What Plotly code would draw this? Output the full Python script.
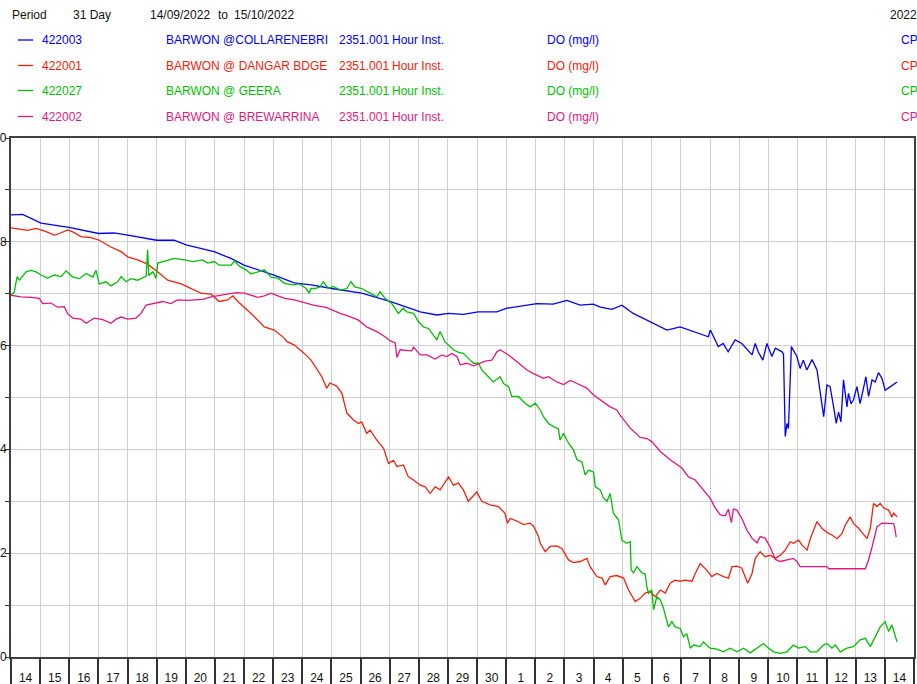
import pandas as pd
import plotly.graph_objects as go

START = pd.Timestamp("2022-09-14")
END = pd.Timestamp("2022-10-15")

# ---- series data: time offsets in days from 14/09/2022 00:00, DO in mg/l ----
blue_days = [0, 0.40, 1.03, 1.99, 3.01, 3.54, 4.01, 5.00, 5.60, 6.01, 6.97, 7.55, 8.00, 9.03, 9.72,
             10.30, 11.01, 12.04, 13.01, 14.05, 14.62, 15.01, 15.52, 16.04, 16.68, 17.02, 18.05, 18.61, 19.08, 19.54,
             19.99, 20.23, 20.63, 20.97, 21.36, 21.94, 22.05, 22.52, 22.97, 23.42, 23.94, 24.01, 24.28, 24.45, 24.62,
             24.86, 25.09, 25.44, 25.55, 25.65, 25.81, 25.95, 26.12, 26.24, 26.47, 26.52, 26.58, 26.64, 26.69, 26.79,
             26.98, 27.09, 27.20, 27.32, 27.50, 27.67, 27.78, 27.90, 28.01, 28.12, 28.24, 28.33, 28.41, 28.49, 28.58,
             28.70, 28.75, 28.84, 28.92, 29.04, 29.15, 29.35, 29.44, 29.56, 29.67, 29.78, 29.90, 30.01, 30.19, 30.36,
             30.42]
blue_do = [8.52, 8.53, 8.36, 8.28, 8.16, 8.17, 8.13, 8.03, 8.03, 7.94, 7.81, 7.68, 7.55, 7.36, 7.21,
           7.17, 7.10, 7.01, 6.85, 6.65, 6.59, 6.62, 6.60, 6.65, 6.65, 6.72, 6.81, 6.80, 6.87, 6.78,
           6.80, 6.74, 6.70, 6.78, 6.62, 6.46, 6.43, 6.30, 6.36, 6.27, 6.17, 6.30, 5.98, 6.04, 5.88,
           6.11, 6.04, 5.82, 6.04, 5.88, 5.72, 6.04, 5.79, 5.95, 5.88, 5.84, 4.25, 4.50, 4.40, 5.98,
           5.79, 5.56, 5.72, 5.53, 5.73, 5.53, 5.08, 4.63, 5.24, 5.21, 4.82, 4.50, 4.72, 4.53, 5.34,
           4.82, 5.08, 4.88, 4.95, 5.21, 4.88, 5.40, 5.02, 5.34, 5.30, 5.48, 5.37, 5.14, 5.21, 5.27,
           5.30]

red_days = [0, 0.40, 0.57, 0.86, 1.14, 1.49, 1.66, 1.95, 2.12, 2.40, 2.75, 3.03, 3.43, 3.78, 4.01,
            4.35, 4.69, 5.04, 5.38, 5.84, 6.24, 6.52, 6.87, 7.15, 7.44, 7.61, 7.79, 8.24, 8.70, 9.04,
            9.39, 9.47, 9.73, 10.07, 10.30, 10.67, 10.84, 10.95, 11.18, 11.36, 11.53, 11.75, 11.93, 12.04, 12.21,
            12.33, 12.56, 12.79, 12.96, 13.13, 13.25, 13.47, 13.64, 13.82, 14.05, 14.22, 14.39, 14.56, 14.73, 14.90,
            15.02, 15.19, 15.36, 15.53, 15.70, 15.99, 16.16, 16.45, 16.73, 16.96, 17.04, 17.14, 17.37, 17.59, 17.82,
            17.94, 18.11, 18.17, 18.34, 18.51, 18.74, 18.91, 19.14, 19.31, 19.54, 19.77, 19.88, 20.11, 20.29, 20.40,
            20.57, 20.80, 21.03, 21.20, 21.43, 21.60, 21.77, 21.94, 22.12, 22.29, 22.46, 22.63, 22.80, 22.97, 23.14,
            23.38, 23.49, 23.66, 23.89, 24.06, 24.23, 24.46, 24.63, 24.75, 24.92, 25.09, 25.21, 25.29, 25.44, 25.55,
            25.72, 25.89, 26.06, 26.24, 26.41, 26.58, 26.75, 26.86, 27.04, 27.15, 27.33, 27.44, 27.67, 27.84, 28.01,
            28.18, 28.36, 28.53, 28.64, 28.81, 28.93, 29.10, 29.21, 29.39, 29.50, 29.61, 29.73, 29.84, 29.96, 30.13,
            30.24, 30.30, 30.42]
red_do = [8.27, 8.24, 8.22, 8.26, 8.21, 8.13, 8.16, 8.23, 8.19, 8.10, 8.08, 8.03, 7.90, 7.81, 7.71,
          7.65, 7.57, 7.42, 7.26, 7.19, 7.08, 7.01, 6.99, 6.85, 6.88, 6.96, 6.85, 6.62, 6.36, 6.30,
          6.14, 6.08, 6.01, 5.85, 5.72, 5.40, 5.18, 5.28, 5.22, 5.08, 4.70, 4.57, 4.50, 4.53, 4.31,
          4.37, 4.18, 4.02, 3.73, 3.79, 3.67, 3.70, 3.47, 3.41, 3.31, 3.28, 3.15, 3.28, 3.22, 3.38,
          3.47, 3.31, 3.35, 3.22, 3.00, 3.18, 3.00, 2.93, 2.90, 2.77, 2.58, 2.67, 2.62, 2.55, 2.58,
          2.52, 2.32, 2.19, 2.03, 2.13, 2.14, 2.09, 1.87, 1.82, 1.84, 1.90, 1.74, 1.55, 1.52, 1.39,
          1.55, 1.57, 1.52, 1.29, 1.07, 1.13, 1.23, 1.26, 1.16, 1.29, 1.23, 1.42, 1.48, 1.46, 1.48,
          1.46, 1.61, 1.80, 1.67, 1.55, 1.61, 1.55, 1.52, 1.74, 1.75, 1.71, 1.52, 1.42, 1.61, 1.90,
          2.03, 1.93, 1.96, 1.90, 1.96, 2.06, 2.22, 2.19, 2.25, 2.16, 2.06, 2.28, 2.61, 2.48, 2.40,
          2.35, 2.28, 2.38, 2.54, 2.70, 2.57, 2.48, 2.40, 2.28, 2.48, 2.96, 2.90, 2.96, 2.87, 2.83,
          2.70, 2.77, 2.70]

green_days = [0, 0.11, 0.21, 0.29, 0.52, 0.69, 0.86, 1.03, 1.26, 1.49, 1.72, 1.89, 2.12, 2.35, 2.58,
              2.81, 2.92, 3.03, 3.26, 3.43, 3.66, 3.78, 3.95, 4.12, 4.35, 4.58, 4.64, 4.69, 4.73, 4.87,
              4.98, 5.04, 5.26, 5.61, 5.95, 6.24, 6.58, 6.75, 6.98, 7.15, 7.56, 7.67, 7.84, 8.07, 8.24,
              8.47, 8.70, 8.93, 9.16, 9.39, 9.67, 9.90, 10.13, 10.24, 10.30, 10.44, 10.61, 10.72, 10.90, 11.07,
              11.30, 11.53, 11.67, 11.81, 12.04, 12.33, 12.56, 12.67, 12.84, 13.07, 13.30, 13.47, 13.59, 13.82, 13.99,
              14.16, 14.33, 14.45, 14.62, 14.73, 14.90, 15.02, 15.19, 15.36, 15.53, 15.76, 15.88, 16.05, 16.16, 16.39,
              16.56, 16.79, 16.91, 17.08, 17.19, 17.42, 17.65, 17.82, 18.00, 18.17, 18.28, 18.45, 18.62, 18.79, 18.85,
              18.97, 19.14, 19.31, 19.43, 19.60, 19.71, 19.83, 20.00, 20.06, 20.23, 20.34, 20.46, 20.57, 20.68, 20.86,
              20.97, 21.14, 21.26, 21.29, 21.37, 21.49, 21.66, 21.77, 21.83, 21.89, 22.00, 22.06, 22.17, 22.29, 22.40,
              22.57, 22.69, 22.80, 22.97, 23.09, 23.20, 23.32, 23.43, 23.66, 23.77, 24.00, 24.23, 24.46, 24.69, 24.92,
              25.15, 25.38, 25.61, 25.83, 26.01, 26.18, 26.41, 26.64, 26.86, 27.04, 27.27, 27.44, 27.67, 27.89, 28.01,
              28.18, 28.30, 28.47, 28.70, 28.92, 29.15, 29.33, 29.50, 29.67, 29.84, 30.01, 30.13, 30.24, 30.42]
green_do = [6.97, 7.03, 7.33, 7.26, 7.42, 7.45, 7.42, 7.36, 7.30, 7.36, 7.33, 7.44, 7.32, 7.29, 7.39,
            7.32, 7.45, 7.19, 7.23, 7.15, 7.23, 7.33, 7.23, 7.29, 7.26, 7.32, 7.34, 7.85, 7.35, 7.42,
            7.30, 7.59, 7.62, 7.68, 7.65, 7.62, 7.65, 7.59, 7.62, 7.55, 7.55, 7.63, 7.53, 7.46, 7.38,
            7.42, 7.46, 7.32, 7.30, 7.20, 7.17, 7.19, 7.10, 7.01, 7.10, 7.10, 7.13, 7.23, 7.10, 7.14,
            7.07, 7.10, 7.23, 7.13, 7.10, 7.01, 6.94, 7.04, 6.91, 6.81, 6.62, 6.72, 6.65, 6.62, 6.46,
            6.36, 6.33, 6.24, 6.11, 6.27, 6.07, 6.01, 5.92, 5.87, 5.85, 5.72, 5.66, 5.66, 5.53, 5.40,
            5.30, 5.40, 5.27, 5.21, 5.02, 5.02, 4.89, 4.82, 4.89, 4.76, 4.63, 4.50, 4.44, 4.40, 4.18,
            4.31, 4.12, 3.99, 3.80, 3.76, 3.51, 3.60, 3.56, 3.28, 3.22, 3.06, 3.00, 3.15, 2.77, 2.64,
            2.25, 2.19, 2.22, 1.68, 1.62, 1.74, 1.62, 1.60, 1.35, 1.23, 1.29, 0.91, 1.16, 1.10, 0.94,
            0.58, 0.68, 0.58, 0.55, 0.39, 0.45, 0.17, 0.23, 0.20, 0.29, 0.17, 0.15, 0.10, 0.17, 0.10,
            0.17, 0.08, 0.17, 0.26, 0.17, 0.10, 0.07, 0.10, 0.23, 0.17, 0.20, 0.10, 0.10, 0.23, 0.26,
            0.17, 0.23, 0.10, 0.17, 0.20, 0.33, 0.36, 0.20, 0.39, 0.58, 0.68, 0.49, 0.62, 0.29]

pink_days = [0, 0.34, 0.69, 0.97, 1.09, 1.37, 1.60, 1.83, 1.95, 2.12, 2.40, 2.58, 2.86, 3.15, 3.43,
             3.61, 3.78, 4.01, 4.29, 4.46, 4.64, 4.92, 5.21, 5.49, 5.72, 6.07, 6.35, 6.58, 6.87, 7.15,
             7.44, 7.73, 8.01, 8.24, 8.47, 8.70, 8.93, 9.16, 9.39, 9.73, 9.99, 10.38, 10.84, 11.30, 11.64,
             11.93, 12.21, 12.56, 12.84, 13.02, 13.19, 13.25, 13.36, 13.59, 13.76, 13.82, 14.05, 14.28, 14.56, 14.79,
             14.96, 15.13, 15.31, 15.42, 15.65, 15.88, 16.11, 16.28, 16.51, 16.68, 16.79, 17.08, 17.37, 17.71, 17.94,
             18.28, 18.45, 18.74, 18.97, 19.20, 19.43, 19.77, 20.00, 20.23, 20.57, 20.80, 20.91, 21.26, 21.60, 21.83,
             22.00, 22.29, 22.63, 23.03, 23.26, 23.49, 23.77, 24.00, 24.18, 24.35, 24.52, 24.63, 24.73, 24.80, 24.92,
             25.09, 25.26, 25.44, 25.61, 25.72, 25.89, 26.06, 26.24, 26.41, 26.64, 26.86, 26.98, 27.09, 28.01, 28.07,
             29.33, 29.44, 29.56, 29.73, 29.90, 30.07, 30.30, 30.33, 30.39]
pink_do = [6.97, 6.94, 6.93, 6.91, 6.81, 6.82, 6.74, 6.75, 6.61, 6.53, 6.51, 6.43, 6.53, 6.50, 6.43,
           6.51, 6.55, 6.51, 6.53, 6.62, 6.78, 6.81, 6.85, 6.81, 6.88, 6.87, 6.88, 6.89, 6.94, 6.97,
           6.99, 7.02, 7.01, 6.97, 6.93, 6.96, 7.01, 6.96, 6.91, 6.88, 6.84, 6.78, 6.73, 6.62, 6.56,
           6.49, 6.36, 6.27, 6.17, 6.09, 6.05, 5.77, 5.92, 5.91, 5.90, 5.97, 5.82, 5.82, 5.74, 5.82,
           5.79, 5.85, 5.79, 5.63, 5.66, 5.61, 5.67, 5.70, 5.72, 5.88, 5.92, 5.82, 5.69, 5.53, 5.46,
           5.37, 5.40, 5.30, 5.25, 5.33, 5.27, 5.18, 5.05, 4.96, 4.82, 4.76, 4.66, 4.41, 4.23, 4.21,
           4.15, 3.96, 3.80, 3.64, 3.47, 3.41, 3.22, 3.06, 2.87, 2.74, 2.72, 2.85, 2.59, 2.85, 2.83,
           2.67, 2.45, 2.29, 2.20, 2.32, 2.29, 2.12, 1.88, 1.84, 1.87, 1.90, 1.84, 1.74, 1.74, 1.70,
           1.70, 1.87, 2.12, 2.51, 2.58, 2.57, 2.57, 2.51, 2.31]

# ---- header / legend text ----
codes = ["422003", "422001", "422027", "422002"]
stations = ["BARWON @COLLARENEBRI", "BARWON @ DANGAR BDGE", "BARWON @ GEERA", "BARWON @ BREWARRINA"]
colors = ["#0000ff", "#f5200a", "#00c000", "#e3177f"]
variable_code = "2351.001"
interval = "Hour Inst."
param = "DO (mg/l)"
suffix = "CP"
period_label = "Period"
period_len = "31 Day"
period_from = "14/09/2022"
period_to = "15/10/2022"
year_label = "2022"

y_ticks = list(range(0, 11))
y_label_vals = [0, 2, 4, 6, 8, 10]
y_label_text = ["0", "2", "4", "6", "8", "10"]


def to_time(days):
    return [START + pd.Timedelta(days=d) for d in days]


series = [(blue_days, blue_do), (red_days, red_do), (green_days, green_do), (pink_days, pink_do)]

W, H = 917, 684
L, R, T, B = 11, 3, 138, 27
pw, ph = W - L - R, H - T - B


def px(xp):
    return (xp - L) / pw


def py(yp):
    return (H - B - yp) / ph


fig = go.Figure()
for i, (d, v) in enumerate(series):
    fig.add_trace(go.Scatter(
        x=to_time(d), y=v, mode="lines",
        line=dict(color=colors[i], width=1.3),
        xaxis="x2" if i == 3 else "x",
        showlegend=False, hoverinfo="skip"))

FONT = "Liberation Sans, Arial, sans-serif"
ann = []


def text(x, y, s, color):
    ann.append(dict(x=px(x), y=py(y), xref="paper", yref="paper", text=s, showarrow=False,
                    xanchor="left", yanchor="middle", font=dict(family=FONT, size=12, color=color)))


text(10, 15.5, period_label, "#111111")
text(70.5, 15.5, period_len, "#111111")
text(148, 15.5, period_from, "#111111")
text(215.5, 15.5, "to", "#111111")
text(231.5, 15.5, period_to, "#111111")
text(887.5, 15.5, year_label, "#111111")

rows_y = [40.5, 66, 91, 117]
shapes = []
for i in range(4):
    c = colors[i]
    yy = rows_y[i]
    shapes.append(dict(type="line", xref="paper", yref="paper", x0=px(18), x1=px(33),
                       y0=py(yy - 0.5), y1=py(yy - 0.5), line=dict(color=c, width=1.3)))
    text(39.5, yy, codes[i], c)
    text(163.5, yy, stations[i], c)
    text(337, yy, variable_code, c)
    text(389.5, yy, interval, c)
    text(545, yy, param, c)
    text(899, yy, suffix, c)

# y-axis value labels, placed tight against the axis like the original
for val, lab in zip(y_label_vals, y_label_text):
    ann.append(dict(x=px(9), y=val, xref="paper", yref="y", text=lab, showarrow=False,
                    xanchor="right", yanchor="middle",
                    font=dict(family=FONT, size=12, color="#111111")))

xcommon = dict(type="date", range=[START, END], dtick=86400000, tick0=START)

fig.update_layout(
    width=W, height=H,
    margin=dict(l=L, r=R, t=T, b=B, pad=0),
    paper_bgcolor="white", plot_bgcolor="white",
    font=dict(family=FONT, size=12, color="#111111"),
    showlegend=False, hovermode=False,
    xaxis=dict(**xcommon, tickformat="%-d", ticklabelmode="period",
               ticks="outside", ticklen=9, tickcolor="rgba(0,0,0,0)",
               showgrid=True, gridcolor="#cfcfcf", gridwidth=1.2,
               showline=True, mirror=True, linecolor="#404040", linewidth=1.5,
               tickfont=dict(size=12, color="#111111"), automargin=False, zeroline=False),
    xaxis2=dict(**xcommon, overlaying="x", anchor="y", side="bottom",
                ticks="outside", ticklen=32, tickcolor="#333333", tickwidth=1.5,
                showticklabels=False, showgrid=False, showline=False, zeroline=False,
                automargin=False),
    yaxis=dict(range=[0, 10], tickvals=y_ticks, showticklabels=False,
               ticks="outside", ticklen=4, tickcolor="#333333", tickwidth=1.2,
               showgrid=True, gridcolor="#cfcfcf", gridwidth=1.2,
               showline=True, mirror=True, linecolor="#404040", linewidth=1.5,
               zeroline=False, automargin=False),
    annotations=ann, shapes=shapes,
)

fig.write_html("out.html", config={"displayModeBar": False},
               post_script="document.body.style.margin='0';document.body.style.overflow='hidden';")
